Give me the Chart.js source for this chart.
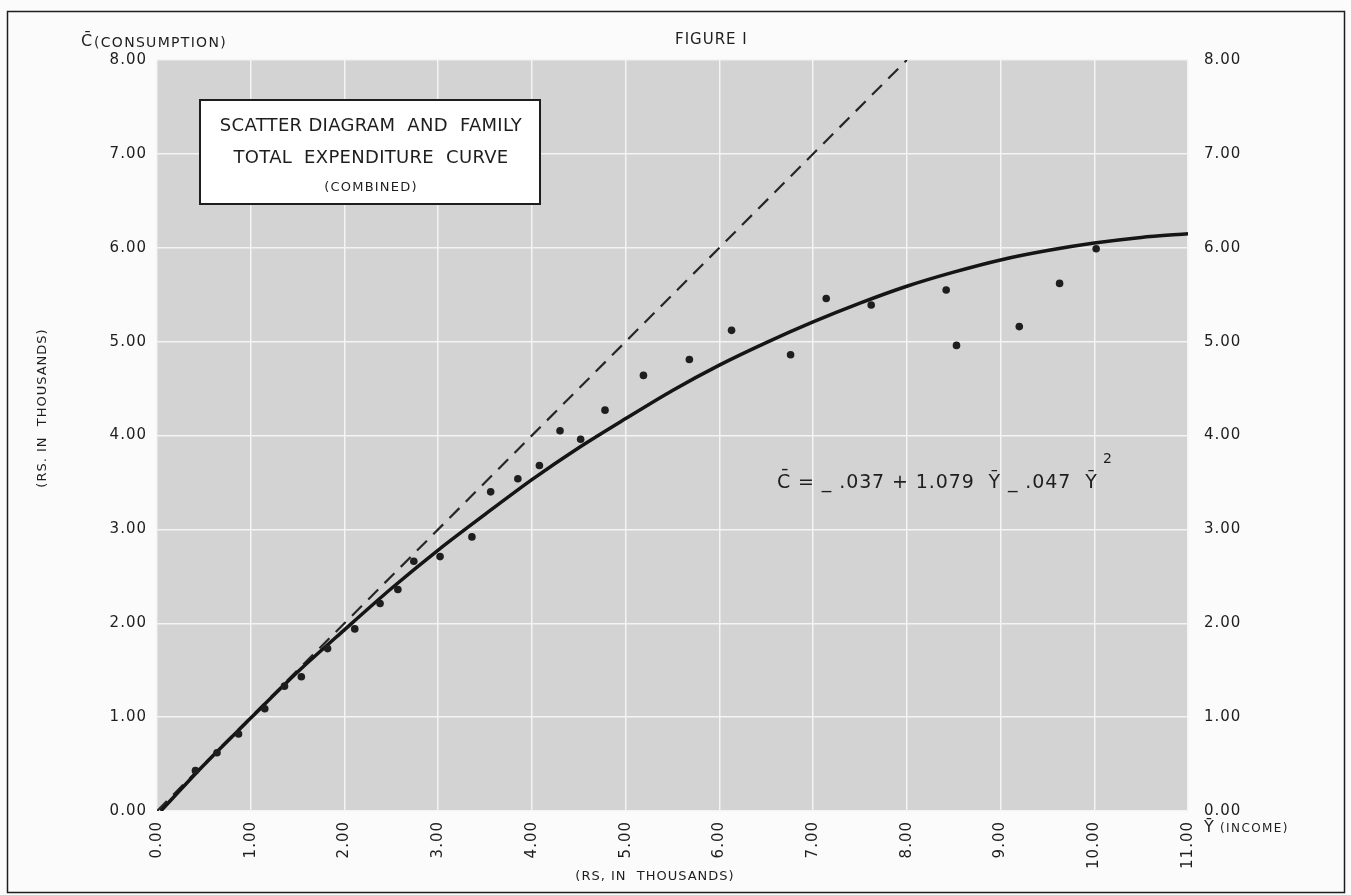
<!DOCTYPE html>
<html>
<head>
<meta charset="utf-8">
<script src="https://cdn.jsdelivr.net/npm/chart.js@4.4.1/dist/chart.umd.min.js"></script>
<style>
  html, body { margin: 0; padding: 0; background: #fbfbfb; }
  #wrap { position: relative; width: 1351px; height: 895px; }
  canvas { display: block; }
</style>
</head>
<body>
<div id="wrap"><canvas id="fig"></canvas></div>
<script>
// --- data (Rs. in thousands) ---
const incomeObs = [0.41, 0.64, 0.87, 1.15, 1.36, 1.54, 1.82, 2.11, 2.38, 2.57,
                   2.74, 3.02, 3.36, 3.56, 3.85, 4.08, 4.30, 4.52, 4.78, 5.19,
                   5.68, 6.13, 6.76, 7.14, 7.62, 8.42, 8.53, 9.20, 9.63, 10.02];
const consObs   = [0.43, 0.62, 0.82, 1.09, 1.33, 1.43, 1.73, 1.94, 2.21, 2.36,
                   2.66, 2.71, 2.92, 3.40, 3.54, 3.68, 4.05, 3.96, 4.27, 4.64,
                   4.81, 5.12, 4.86, 5.46, 5.39, 5.55, 4.96, 5.16, 5.62, 5.99];

// fitted expenditure curve, read at half-thousand steps
const curveIncome = [0.04, 0.5, 1, 1.5, 2, 2.5, 3, 3.5, 4, 4.5, 5, 5.5,
                     6, 6.5, 7, 7.5, 8, 8.5, 9, 9.5, 10, 10.5, 11];
const curveCons   = [0.00, 0.49, 0.99, 1.48, 1.93, 2.37, 2.78, 3.16, 3.53, 3.87, 4.18, 4.48,
                     4.75, 4.99, 5.21, 5.41, 5.59, 5.74, 5.87, 5.97, 6.05, 6.11, 6.15];

// 45 degree line (C = Y)
const diagIncome = [0, 8];
const diagCons   = [0, 8];

const xTickLabels = ['0.00', '1.00', '2.00', '3.00', '4.00', '5.00',
                     '6.00', '7.00', '8.00', '9.00', '10.00', '11.00'];
const yTickLabels = ['0.00', '1.00', '2.00', '3.00', '4.00', '5.00', '6.00', '7.00', '8.00'];

const pts = (xs, ys) => xs.map((x, i) => ({ x: x, y: ys[i] }));

const INK = '#1e1e1e';
const FONT = "'DejaVu Sans', sans-serif";

// lettering helper: font size + letter spacing
const letter = (ctx, text, x, y, size, spacing) => {
    ctx.font = size + 'px ' + FONT;
    ctx.letterSpacing = spacing + 'px';
    ctx.fillText(text, x, y);
    ctx.letterSpacing = '0px';
};

// grey plot field + all the hand lettering around it
const paperPlugin = {
    id: 'paper',
    beforeDraw(chart) {
        const { ctx, chartArea: a } = chart;
        ctx.save();
        ctx.fillStyle = '#d3d3d3';
        ctx.fillRect(a.left, a.top, a.right - a.left, a.bottom - a.top);
        ctx.restore();
        // stencil-like spacing for the tick numbers too
        ctx.letterSpacing = '1px';
    },
    afterDraw(chart) {
        const ctx = chart.ctx;
        ctx.save();
        ctx.fillStyle = INK;
        ctx.strokeStyle = INK;

        // outer frame
        ctx.lineWidth = 1.5;
        ctx.strokeRect(7.5, 11.5, 1337, 881);

        // top labels
        ctx.textBaseline = 'middle';
        ctx.textAlign = 'left';
        letter(ctx, 'C\u0304', 81, 42, 16, 0);
        letter(ctx, '(CONSUMPTION)', 94, 43, 14, 1.3);
        letter(ctx, 'FIGURE I', 675, 40, 15, 1);

        // title box
        ctx.fillStyle = '#ffffff';
        ctx.fillRect(200, 100, 340, 104);
        ctx.lineWidth = 2;
        ctx.strokeRect(200, 100, 340, 104);
        ctx.fillStyle = INK;
        ctx.textAlign = 'center';
        letter(ctx, 'SCATTER DIAGRAM  AND  FAMILY', 371, 126, 18, 0.3);
        letter(ctx, 'TOTAL  EXPENDITURE  CURVE', 371, 158, 18, 0.3);
        letter(ctx, '(COMBINED)', 371, 188, 13, 1.2);

        // regression equation
        ctx.textAlign = 'left';
        letter(ctx, 'C\u0304 = _ .037 + 1.079  Y\u0304 _ .047  Y\u0304', 777, 483, 19, 0.9);
        letter(ctx, '2', 1103, 459, 14, 0);

        // axis titles
        ctx.textAlign = 'center';
        letter(ctx, '(RS, IN  THOUSANDS)', 655, 877, 13, 1);
        ctx.textAlign = 'left';
        letter(ctx, 'Y\u0304', 1204, 828, 16, 0);
        letter(ctx, '(INCOME)', 1220, 829, 12, 1.4);

        ctx.translate(43, 408);
        ctx.rotate(-Math.PI / 2);
        ctx.textAlign = 'center';
        letter(ctx, '(RS. IN  THOUSANDS)', 0, 0, 13, 1);
        ctx.restore();
    }
};

const tickFont = { family: FONT, size: 15 };

new Chart(document.getElementById('fig').getContext('2d'), {
    type: 'scatter',
    data: {
        datasets: [
            {
                label: 'Families',
                data: pts(incomeObs, consObs),
                pointRadius: 3.8,
                pointBackgroundColor: INK,
                pointBorderWidth: 0,
                showLine: false
            },
            {
                label: 'Expenditure curve',
                data: pts(curveIncome, curveCons),
                showLine: true,
                borderColor: '#151515',
                borderWidth: 3.5,
                pointRadius: 0,
                tension: 0.3
            },
            {
                label: 'C = Y',
                data: pts(diagIncome, diagCons),
                showLine: true,
                borderColor: '#262626',
                borderWidth: 2.2,
                borderDash: [14, 9],
                pointRadius: 0
            }
        ]
    },
    options: {
        responsive: true,
        maintainAspectRatio: false,
        animation: false,
        layout: { padding: { top: 60, left: 0, right: 0, bottom: 0 } },
        plugins: { legend: { display: false }, tooltip: { enabled: false } },
        scales: {
            x: {
                type: 'linear', position: 'bottom', min: 0, max: 11,
                afterFit: s => { s.height = 84; },
                border: { display: false },
                grid: { color: '#f4f4f4', lineWidth: 1.5, drawTicks: false },
                ticks: {
                    stepSize: 1, autoSkip: false, minRotation: 90, maxRotation: 90,
                    padding: 10, color: INK, font: tickFont,
                    callback: v => xTickLabels[v]
                }
            },
            y: {
                type: 'linear', position: 'left', min: 0, max: 8,
                afterFit: s => { s.width = 157; },
                border: { display: false },
                grid: { color: '#f4f4f4', lineWidth: 1.5, drawTicks: false },
                ticks: {
                    stepSize: 1, padding: 10, color: INK, font: tickFont,
                    callback: v => yTickLabels[v]
                }
            },
            y2: {
                type: 'linear', position: 'right', min: 0, max: 8,
                afterFit: s => { s.width = 163; },
                border: { display: false },
                grid: { display: false, drawTicks: false },
                ticks: {
                    stepSize: 1, padding: 16, color: INK, font: tickFont,
                    callback: v => yTickLabels[v]
                }
            }
        }
    },
    plugins: [paperPlugin]
});
</script>
</body>
</html>
